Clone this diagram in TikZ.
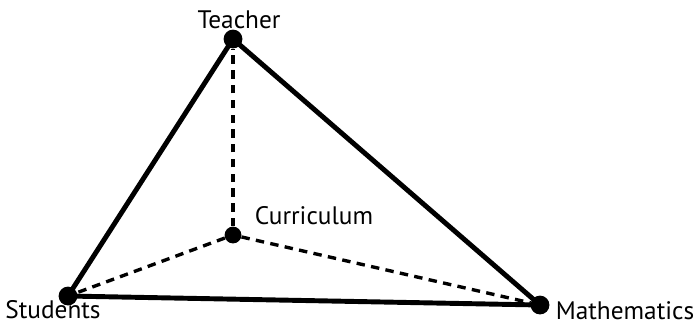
\documentclass[tikz,border=0pt]{standalone}
\usepackage{fontspec}
\setmainfont{PT Sans}
\usetikzlibrary{positioning}

\begin{document}
\begin{tikzpicture}[x=0.025cm, y=-0.025cm,
    dot/.style={circle, fill=black, inner sep=0pt, minimum size=0.47cm},
    lbl/.style={font=\fontsize{18}{20}\selectfont, inner sep=0pt},
    edge/.style={line width=3.5pt, line cap=round, line join=round},
    hidden/.style={line width=2.4pt, dash pattern=on 6pt off 4.5pt}
]
    \useasboundingbox (0,0) rectangle (697,325);

    \node[dot] (teacher)    at (233, 39)  {};
    \node[dot, minimum size=0.42cm] (curriculum) at (233, 235) {};
    \node[dot] (students)   at ( 68, 296) {};
    \node[dot] (maths)      at (540, 305) {};

    \node[lbl] (tlabel) at (239, 20)  {Teacher};
    \node[lbl] (clabel) at (314, 216) {Curriculum};
    \node[lbl] (slabel) at ( 53, 310) {Students};
    \node[lbl] (mlabel) at (625, 311) {Mathematics};

    % hidden edges to the back vertex
    \draw[hidden] (curriculum) -- (teacher);
    \draw[hidden] (curriculum) -- (students);
    \draw[hidden] (curriculum) -- (maths);

    \draw[edge] (teacher.center) -- (students.center) -- (maths.center) -- cycle;
\end{tikzpicture}
\end{document}
